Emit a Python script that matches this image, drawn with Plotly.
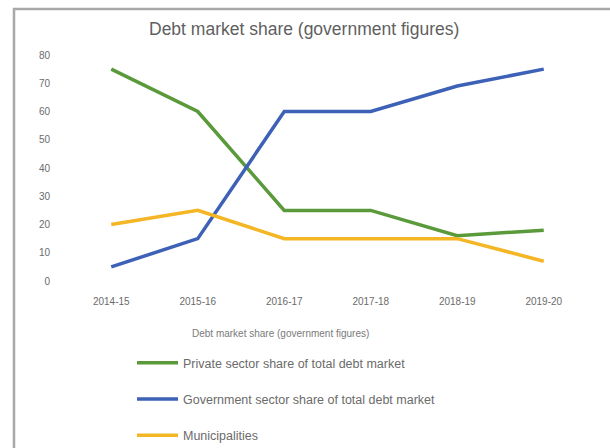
import plotly.graph_objects as go

years = ["2014-15", "2015-16", "2016-17", "2017-18", "2018-19", "2019-20"]
private_share = [75, 60, 25, 25, 16, 18]
government_share = [5, 15, 60, 60, 69, 75]
municipalities = [20, 25, 15, 15, 15, 7]

series_names = [
    "Private sector share of total debt market",
    "Government sector share of total debt market",
    "Municipalities",
]
series_colors = ["#5a9a3a", "#3d61b6", "#f4b625"]

FONT = "Liberation Sans, Arial, sans-serif"
TEXT = "#6b6b6b"

fig = go.Figure()
for i, (name, vals, col) in enumerate(
    zip(series_names, [private_share, government_share, municipalities], series_colors)
):
    fig.add_trace(
        go.Scatter(
            x=years,
            y=vals,
            name=name,
            mode="lines",
            line=dict(color=col, width=3.5),
            legendgroup=f"g{i}",
        )
    )

W, H = 610, 448
L, R, T, B = 68, 23, 55, 167
pw, ph = W - L - R, H - T - B


def px_x(p):
    return (p - L) / pw


def px_y(p):
    return (H - B - p) / ph


fig.update_layout(
    width=W,
    height=H,
    margin=dict(l=L, r=R, t=T, b=B, autoexpand=False),
    paper_bgcolor="white",
    plot_bgcolor="white",
    font=dict(family=FONT, color=TEXT, size=12),
    showlegend=True,
    legend=dict(
        orientation="v",
        x=px_x(132),
        y=px_y(348),
        xanchor="left",
        yanchor="top",
        font=dict(size=12.5, color=TEXT),
        tracegroupgap=17,
        itemwidth=41,
    ),
    xaxis=dict(
        type="category",
        range=[-0.5, 5.5],
        showgrid=False,
        showline=False,
        zeroline=False,
        ticks="",
        tickfont=dict(size=10, color=TEXT),
        ticklabelstandoff=13,
    ),
    yaxis=dict(
        range=[0, 80],
        dtick=10,
        showgrid=False,
        showline=False,
        zeroline=False,
        ticks="",
        tickfont=dict(size=10, color=TEXT),
        ticklabelstandoff=17,
    ),
    shapes=[
        dict(
            type="rect",
            xref="paper",
            yref="paper",
            x0=px_x(14),
            x1=px_x(700),
            y0=px_y(700),
            y1=px_y(9),
            line=dict(color="#a8a8a8", width=2.5),
            fillcolor="rgba(0,0,0,0)",
            layer="below",
        )
    ],
    annotations=[
        dict(
            text="Debt market share (government figures)",
            xref="paper",
            yref="paper",
            x=px_x(304),
            y=px_y(29),
            xanchor="center",
            yanchor="middle",
            showarrow=False,
            font=dict(size=17.5, color="#5f5f5f", family=FONT),
        ),
        dict(
            text="Debt market share (government figures)",
            xref="paper",
            yref="paper",
            x=px_x(280),
            y=px_y(333),
            xanchor="center",
            yanchor="middle",
            showarrow=False,
            font=dict(size=10, color="#7a7a7a", family=FONT),
        ),
    ],
)

fig.write_html("out.html")
